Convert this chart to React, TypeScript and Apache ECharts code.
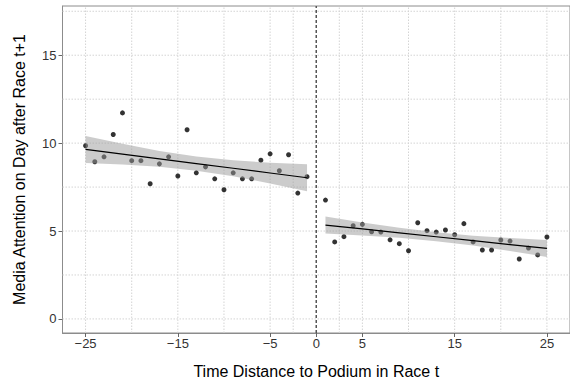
import React, { useEffect, useRef } from "react";
import * as echarts from "echarts";

const leftX = [-25, -24, -23, -22, -21, -20, -19, -18, -17, -16, -15, -14, -13, -12, -11, -10, -9, -8, -7, -6, -5, -4, -3, -2, -1];
const leftY = [9.85, 8.94, 9.22, 10.49, 11.72, 9.0, 9.0, 7.69, 8.82, 9.22, 8.13, 10.76, 8.31, 8.65, 7.97, 7.35, 8.31, 7.97, 7.97, 9.03, 9.39, 8.43, 9.34, 7.16, 8.09];
const rightX = [1, 2, 3, 4, 5, 6, 7, 8, 9, 10, 11, 12, 13, 14, 15, 16, 17, 18, 19, 20, 21, 22, 23, 24, 25];
const rightY = [6.76, 4.38, 4.68, 5.3, 5.38, 4.96, 4.94, 4.5, 4.28, 3.88, 5.47, 5.02, 4.94, 5.06, 4.79, 5.42, 4.38, 3.92, 3.92, 4.49, 4.43, 3.41, 4.03, 3.64, 4.66];

// fitted lines and confidence bands
const leftBandX = [-25, -21, -17, -13, -9, -5, -1];
const leftFit = [9.64, 9.37, 9.1, 8.835, 8.57, 8.3, 8.03];
const leftUpper = [10.41, 9.96, 9.55, 9.235, 9.02, 8.89, 8.8];
const leftLower = [8.87, 8.78, 8.65, 8.435, 8.12, 7.71, 7.26];
const rightBandX = [1, 5, 9, 13, 17, 21, 25];
const rightFit = [5.34, 5.12, 4.9, 4.675, 4.45, 4.23, 4.01];
const rightUpper = [5.82, 5.49, 5.18, 4.925, 4.73, 4.6, 4.49];
const rightLower = [4.86, 4.75, 4.62, 4.425, 4.17, 3.86, 3.53];

const xTicks = [-25, -15, -5, 0, 5, 15, 25];
const xGrid = [-25, -20, -15, -10, -5, -2.5, 2.5, 5, 10, 15, 20, 25];
const yTicks = [0, 5, 10, 15];
const yGrid = [0, 2.5, 5, 7.5, 10, 12.5, 15, 17.5];

const X_MIN = -27.5;
const X_MAX = 27.5;
const Y_MIN = -0.8;
const Y_MAX = 17.8;

const FONT = "'Liberation Sans', Arial, Helvetica, sans-serif";
const BAND_FILL = "rgba(153,153,153,0.5)";
const GRID_COLOR = "#d4d4d4";

function bandSeries(xs: number[], up: number[], lo: number[]) {
  return {
    type: "custom",
    coordinateSystem: "cartesian2d",
    data: [[xs[0], up[0]]],
    z: 3,
    silent: true,
    renderItem: (params: any, api: any) => {
      const top = xs.map((x, i) => api.coord([x, up[i]]));
      const bot = xs.map((x, i) => api.coord([x, lo[i]])).reverse();
      return {
        type: "polygon",
        shape: { points: top.concat(bot) },
        style: { fill: BAND_FILL },
      };
    },
  };
}

function gridSeries(values: number[], vertical: boolean) {
  return {
    type: "custom",
    coordinateSystem: "cartesian2d",
    data: values.map((v) => (vertical ? [v, 0] : [0, v])),
    z: 1,
    silent: true,
    clip: true,
    renderItem: (params: any, api: any) => {
      const v = api.value(vertical ? 0 : 1);
      const p1 = vertical ? api.coord([v, Y_MIN]) : api.coord([X_MIN, v]);
      const p2 = vertical ? api.coord([v, Y_MAX]) : api.coord([X_MAX, v]);
      return {
        type: "line",
        shape: { x1: p1[0], y1: p1[1], x2: p2[0], y2: p2[1] },
        style: { stroke: GRID_COLOR, lineWidth: 1, lineDash: [1.5, 1.5] },
      };
    },
  };
}

export default function App() {
  const ref = useRef<HTMLDivElement>(null);
  useEffect(() => {
    if (!ref.current) return;
    const chart = echarts.init(ref.current, undefined, { renderer: "svg" });
    const option: any = {
      animation: false,
      backgroundColor: "#ffffff",
      textStyle: { fontFamily: FONT },
      grid: {
        left: 62.5,
        right: -3,
        top: 6,
        bottom: 52,
        show: true,
        borderColor: "#8c8c8c",
        borderWidth: 1,
        backgroundColor: "transparent",
      },
      xAxis: {
        type: "value",
        min: X_MIN,
        max: X_MAX,
        name: "Time Distance to Podium in Race t",
        nameLocation: "middle",
        nameGap: 30,
        nameTextStyle: { fontSize: 16, color: "#000", fontFamily: FONT },
        axisLine: { show: true, onZero: false, lineStyle: { color: "#8c8c8c", width: 1 } },
        axisTick: { show: true, length: 4, customValues: xTicks, lineStyle: { color: "#666" } },
        axisLabel: {
          customValues: xTicks,
          fontSize: 13,
          color: "#333",
          margin: 4,
          fontFamily: FONT,
          formatter: (v: number) => (v < 0 ? "\u2212" + Math.abs(v) : String(v)),
        },
        splitLine: { show: false },
      },
      yAxis: {
        type: "value",
        min: Y_MIN,
        max: Y_MAX,
        name: "Media Attention on Day after Race t+1",
        nameLocation: "middle",
        nameGap: 35,
        nameTextStyle: { fontSize: 16, color: "#000", fontFamily: FONT },
        axisLine: { show: true, onZero: false, lineStyle: { color: "#8c8c8c", width: 1 } },
        axisTick: { show: true, length: 4, customValues: yTicks, lineStyle: { color: "#666" } },
        axisLabel: {
          customValues: yTicks,
          fontSize: 13,
          color: "#333",
          margin: 6,
          fontFamily: FONT,
        },
        splitLine: { show: false },
      },
      series: [
        gridSeries(xGrid, true),
        gridSeries(yGrid, false),
        {
          type: "custom",
          coordinateSystem: "cartesian2d",
          data: [[0, 0]],
          z: 2,
          silent: true,
          renderItem: (params: any, api: any) => {
            const p1 = api.coord([0, Y_MIN]);
            const p2 = api.coord([0, Y_MAX]);
            return {
              type: "line",
              shape: { x1: p1[0], y1: p1[1], x2: p2[0], y2: p2[1] },
              style: { stroke: "#555", lineWidth: 1.5, lineDash: [3, 2] },
            };
          },
        },
        {
          type: "scatter",
          data: leftX.map((x, i) => [x, leftY[i]]),
          symbol: "circle",
          symbolSize: 5,
          itemStyle: { color: "#000" },
          z: 2,
        },
        {
          type: "scatter",
          data: rightX.map((x, i) => [x, rightY[i]]),
          symbol: "circle",
          symbolSize: 5,
          itemStyle: { color: "#000" },
          z: 2,
        },
        bandSeries(leftBandX, leftUpper, leftLower),
        bandSeries(rightBandX, rightUpper, rightLower),
        {
          type: "line",
          data: leftBandX.map((x, i) => [x, leftFit[i]]),
          showSymbol: false,
          symbol: "none",
          lineStyle: { color: "#000", width: 1.2 },
          z: 4,
        },
        {
          type: "line",
          data: rightBandX.map((x, i) => [x, rightFit[i]]),
          showSymbol: false,
          symbol: "none",
          lineStyle: { color: "#000", width: 1.2 },
          z: 4,
        },
      ],
    };
    chart.setOption(option);
    return () => chart.dispose();
  }, []);
  return <div ref={ref} style={{ width: 570, height: 385, position: "absolute", left: 0, top: 0 }} />;
}
